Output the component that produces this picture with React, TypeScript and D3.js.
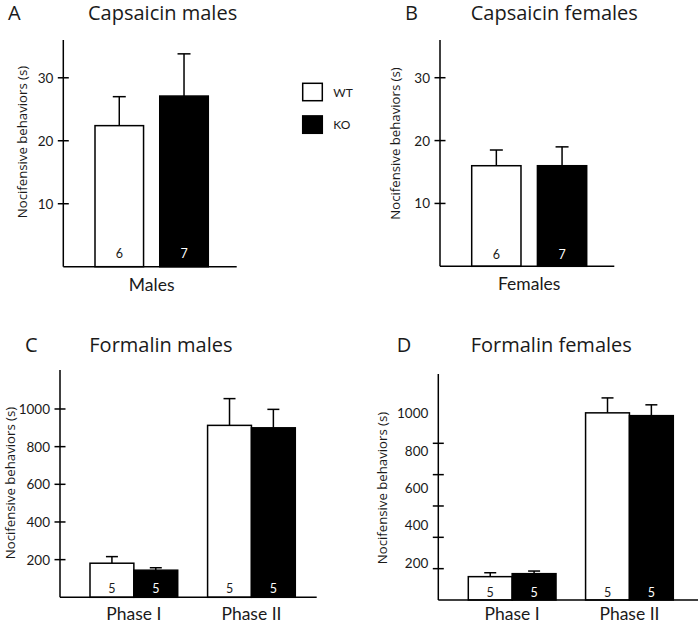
import * as d3 from "d3";

// groups shared by all four panels
const GROUPS = ["WT", "KO"];
const GROUP_FILL = ["#ffffff", "#000000"];
const GROUP_TEXT = ["#1a1a1a", "#ffffff"];

// A: capsaicin, males
const capMaleCats = ["Males"];
const capMaleMean = [[22.4, 27.1]];
const capMaleSem = [[4.6, 6.7]];
const capMaleN = [[6, 7]];

// B: capsaicin, females
const capFemaleCats = ["Females"];
const capFemaleMean = [[16.0, 16.0]];
const capFemaleSem = [[2.5, 3.0]];
const capFemaleN = [[6, 7]];

// C: formalin, males
const formMaleCats = ["Phase I", "Phase II"];
const formMaleMean = [[181, 144], [913, 900]];
const formMaleSem = [[35, 13], [142, 98]];
const formMaleN = [[5, 5], [5, 5]];

// D: formalin, females
const formFemaleCats = ["Phase I", "Phase II"];
const formFemaleMean = [[125, 141], [1002, 987]];
const formFemaleSem = [[21, 14], [80, 58]];
const formFemaleN = [[5, 5], [5, 5]];

const capTicks = [10, 20, 30];
const formTicks = [200, 400, 600, 800, 1000];

const FONT = "Lato, 'Open Sans', sans-serif";
const WIDE_FONT = "'Open Sans', Lato, sans-serif";
const INK = "#1a1a1a";
const Y_LABEL = "Nocifensive behaviors (s)";

interface PanelSpec {
  letter: string;
  title: string;
  cats: string[];
  mean: number[][];
  sem: number[][];
  n: number[][];
  ticks: number[];
  yMax: number;
  axisX: number;
  axisTop: number;
  base: number;
  axisEnd: number;
  barsFrom: number;
  barsTo: number;
  groupPad: number;
  barPad: number;
  tickScaleTop?: number; // panel D: tick marks sit off their labels
  capW: number;
  letterX: number;
  titleX: number;
  titleY: number;
  ylabX: number;
  ylabY: number;
  catY: number;
  countOff: number;
}

const panels: PanelSpec[] = [
  {
    letter: "A", title: "Capsaicin males",
    cats: capMaleCats, mean: capMaleMean, sem: capMaleSem, n: capMaleN,
    ticks: capTicks, yMax: 36,
    axisX: 63.3, axisTop: 40, base: 266.7, axisEnd: 236.7,
    barsFrom: 95, barsTo: 208.3, groupPad: 0, barPad: 0.25, capW: 13,
    letterX: 8, titleX: 88, titleY: 20, ylabX: 22, ylabY: 142, catY: 291, countOff: 8.5,
  },
  {
    letter: "B", title: "Capsaicin females",
    cats: capFemaleCats, mean: capFemaleMean, sem: capFemaleSem, n: capFemaleN,
    ticks: capTicks, yMax: 36,
    axisX: 440, axisTop: 40, base: 266.3, axisEnd: 614.3,
    barsFrom: 471.7, barsTo: 586.7, groupPad: 0, barPad: 0.25, capW: 13,
    letterX: 405, titleX: 470.7, titleY: 20, ylabX: 395, ylabY: 143.5, catY: 290, countOff: 7.5,
  },
  {
    letter: "C", title: "Formalin males",
    cats: formMaleCats, mean: formMaleMean, sem: formMaleSem, n: formMaleN,
    ticks: formTicks, yMax: 1207,
    axisX: 60, axisTop: 370, base: 597.3, axisEnd: 316.7,
    barsFrom: 90, barsTo: 295.3, groupPad: 0.254, barPad: 0, capW: 12,
    letterX: 25, titleX: 89.3, titleY: 352, ylabX: 9.5, ylabY: 483, catY: 619.5, countOff: 4.5,
  },
  {
    letter: "D", title: "Formalin females",
    cats: formFemaleCats, mean: formFemaleMean, sem: formFemaleSem, n: formFemaleN,
    ticks: formTicks, yMax: 1210,
    axisX: 438.3, axisTop: 374, base: 600, axisEnd: 698,
    barsFrom: 468.3, barsTo: 673.3, groupPad: 0.252, barPad: 0, capW: 12,
    tickScaleTop: 443.3,
    letterX: 396.7, titleX: 470.7, titleY: 352, ylabX: 382, ylabY: 488, catY: 620, countOff: 3,
  },
];

function Panel({ p }: { p: PanelSpec }) {
  const y = d3.scaleLinear().domain([0, p.yMax]).range([p.base, p.axisTop]);
  const tickY = p.tickScaleTop
    ? d3.scaleLinear().domain([0, 1000]).range([p.base, p.tickScaleTop])
    : y;
  const x0 = d3.scaleBand<string>().domain(p.cats).range([p.barsFrom, p.barsTo]).paddingInner(p.groupPad);
  const x1 = d3.scaleBand<string>().domain(GROUPS).range([0, x0.bandwidth()]).paddingInner(p.barPad);

  return (
    <g>
      <text x={p.letterX} y={p.titleY} fontSize={20} fontFamily={WIDE_FONT} fill={INK}>{p.letter}</text>
      <text x={p.titleX} y={p.titleY} fontSize={20} fontFamily={WIDE_FONT} fill={INK}>{p.title}</text>
      <text
        transform={`translate(${p.ylabX},${p.ylabY}) rotate(-90)`}
        textAnchor="middle"
        dominantBaseline="central"
        fontSize={13.2}
        fontFamily={WIDE_FONT}
        fill={INK}
      >
        {Y_LABEL}
      </text>

      {p.cats.map((c, ci) => (
        <g key={c}>
          {GROUPS.map((g, gi) => {
            const bx = (x0(c) ?? 0) + (x1(g) ?? 0);
            const bw = x1.bandwidth();
            const m = p.mean[ci][gi];
            const top = y(p.mean[ci][gi] + p.sem[ci][gi]);
            const cx = bx + bw / 2;
            return (
              <g key={g}>
                <line x1={cx} x2={cx} y1={y(m)} y2={top} stroke="#000" strokeWidth={1.5} />
                <line x1={cx - p.capW / 2} x2={cx + p.capW / 2} y1={top} y2={top} stroke="#000" strokeWidth={1.5} />
                <rect x={bx} y={y(m)} width={bw} height={p.base - y(m)} fill={GROUP_FILL[gi]} stroke="#000" strokeWidth={1.5} />
                <text x={cx} y={p.base - p.countOff} textAnchor="middle" fontSize={12.5} fill={GROUP_TEXT[gi]}>
                  {p.n[ci][gi]}
                </text>
              </g>
            );
          })}
          <text x={(x0(c) ?? 0) + x0.bandwidth() / 2} y={p.catY} textAnchor="middle" fontSize={17.5} fill={INK}>
            {c}
          </text>
        </g>
      ))}

      {/* axes */}
      <line x1={p.axisX} x2={p.axisX} y1={p.axisTop} y2={p.base} stroke="#000" strokeWidth={1.5} />
      <line x1={p.axisX} x2={p.axisEnd} y1={p.base} y2={p.base} stroke="#000" strokeWidth={1.5} />
      {p.ticks.map((t) => (
        <g key={t}>
          <line x1={p.axisX - 5.5} x2={p.axisX + 5.5} y1={tickY(t)} y2={tickY(t)} stroke="#000" strokeWidth={1.5} />
          <text x={p.axisX - 10} y={y(t)} textAnchor="end" dominantBaseline="central" fontSize={13.5} fill={INK}>
            {t}
          </text>
        </g>
      ))}
    </g>
  );
}

function Legend() {
  const ly = d3.scaleBand<string>().domain(GROUPS).range([83.3, 133.3]).paddingInner(0.466);
  return (
    <g>
      {GROUPS.map((g, i) => (
        <g key={g}>
          <rect x={302.7} y={ly(g)} width={19.6} height={ly.bandwidth()} fill={GROUP_FILL[i]} stroke="#000" strokeWidth={1.5} />
          <text x={333.3} y={(ly(g) ?? 0) + ly.bandwidth() / 2} dominantBaseline="central" fontSize={12} fill={INK}>
            {g}
          </text>
        </g>
      ))}
    </g>
  );
}

export default function App() {
  return (
    <svg
      width={698}
      height={624}
      style={{ position: "absolute", left: 0, top: 0, background: "#fff" }}
      fontFamily={FONT}
    >
      <rect width={698} height={624} fill="#fff" />
      {panels.map((p) => (
        <Panel key={p.letter} p={p} />
      ))}
      <Legend />
    </svg>
  );
}
